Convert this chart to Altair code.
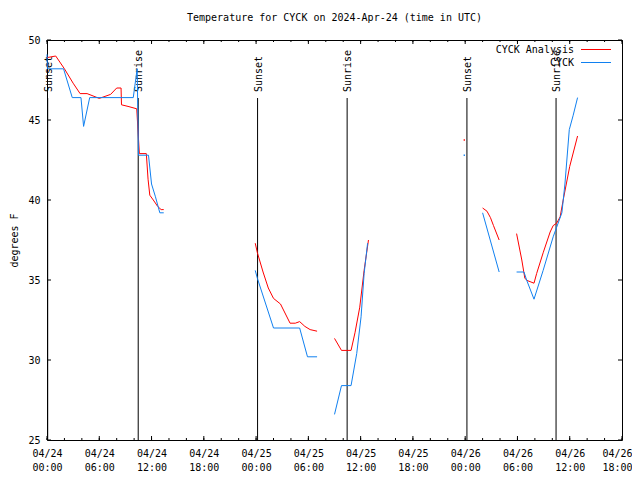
import altair as alt
import pandas as pd

# ---- data (hours since 2024-04-24 00:00 UTC, degrees F) ----
an_seg_h = [
    [0.0, 1.0, 2.0, 3.0, 3.8, 4.6, 6.0, 7.3, 8.0, 8.5, 8.55, 9.3, 10.3, 10.6, 11.4, 11.6, 11.8, 12.2, 12.7, 13.1, 13.4],
    [23.9, 24.15, 24.8, 25.4, 26.0, 26.8, 27.9, 28.5, 29.0, 29.6, 30.2, 31.0],
    [33.0, 33.8, 34.9, 35.35, 35.9, 36.4, 36.9],
    [50.0, 50.5, 50.9, 51.25, 51.9],
    [53.9, 54.5, 54.85, 55.2, 55.9, 56.2, 56.95, 57.75, 58.1, 58.5, 58.9, 59.25, 60.0, 60.9],
]
an_seg_v = [
    [48.9, 49.0, 48.2, 47.3, 46.65, 46.65, 46.35, 46.6, 47.0, 47.0, 45.95, 45.85, 45.7, 42.9, 42.9, 41.3, 40.3, 40.0, 39.6, 39.4, 39.4],
    [37.3, 36.7, 35.5, 34.5, 33.85, 33.5, 32.3, 32.3, 32.4, 32.1, 31.9, 31.8],
    [31.35, 30.6, 30.6, 31.7, 33.3, 35.6, 37.5],
    [39.5, 39.3, 38.9, 38.4, 37.5],
    [37.9, 36.25, 35.1, 34.95, 34.8, 35.4, 36.7, 38.0, 38.4, 38.55, 38.95, 40.0, 42.1, 44.0],
]
ob_seg_h = [
    [0.0, 0.05, 1.9, 2.9, 3.9, 4.2, 4.9, 9.9, 10.35, 10.5, 11.65, 12.0, 12.45, 12.95, 13.4],
    [23.9, 24.15, 26.0, 29.0, 29.9, 31.0],
    [33.0, 33.8, 34.9, 35.55, 36.05, 36.4, 36.8],
    [50.0, 51.9],
    [53.9, 54.75, 55.05, 55.9, 56.95, 58.1, 58.5, 59.1, 59.45, 59.95, 60.4, 60.9],
]
ob_seg_v = [
    [49.1, 48.2, 48.2, 46.4, 46.4, 44.6, 46.4, 46.4, 48.2, 42.8, 42.8, 41.0, 40.2, 39.2, 39.2],
    [35.6, 35.1, 32.0, 32.0, 30.2, 30.2],
    [26.6, 28.4, 28.4, 30.4, 32.7, 35.4, 37.3],
    [39.2, 35.5],
    [35.5, 35.5, 35.0, 33.8, 35.6, 37.7, 38.3, 39.2, 41.0, 44.4, 45.3, 46.4],
]
# isolated single observations
single_h = [47.9, 47.9]
single_v = [43.75, 42.8]
single_series = ["CYCK Analysis", "CYCK"]

series_names = ["CYCK Analysis", "CYCK"]
series_colors = ["#ff0000", "#1080f0"]

sun_hours = [0.08, 10.47, 24.17, 34.45, 48.2, 58.43]
sun_labels = ["Sunset", "Sunrise", "Sunset", "Sunrise", "Sunset", "Sunrise"]

x_label_hours = [0, 6, 12, 18, 24, 30, 36, 42, 48, 54, 60, 66]
x_label_dates = ["04/24", "04/24", "04/24", "04/24", "04/25", "04/25", "04/25", "04/25", "04/26", "04/26", "04/26", "04/26"]
x_label_times = ["00:00", "06:00", "12:00", "18:00", "00:00", "06:00", "12:00", "18:00", "00:00", "06:00", "12:00", "18:00"]
x_minor_hours = list(range(0, 67, 2))
y_tick_values = [25, 30, 35, 40, 45, 50]

title_text = "Temperature for CYCK on 2024-Apr-24 (time in UTC)"
y_title = "degrees F"

FONT = "DejaVu Sans Mono"
FS = 10
W, H = 575, 400

# ---- tables ----
def seg_table(hs, vs, name):
    rows = []
    for i, (h, v) in enumerate(zip(hs, vs)):
        for a, b in zip(h, v):
            rows.append({"h": a, "v": b, "seg": i, "series": name})
    return pd.DataFrame(rows)

an_df = seg_table(an_seg_h, an_seg_v, series_names[0])
ob_df = seg_table(ob_seg_h, ob_seg_v, series_names[1])
single_df = pd.DataFrame({"h": single_h, "v": single_v, "series": single_series})
sun_df = pd.DataFrame({"h": sun_hours, "label": sun_labels})
minor_df = pd.DataFrame({"h": x_minor_hours})
major_df = pd.DataFrame({"h": x_label_hours})
ytick_df = pd.DataFrame({"v": y_tick_values})

# label expression built from the label lists
expr = "''"
for hh, d, t in reversed(list(zip(x_label_hours, x_label_dates, x_label_times))):
    expr = f"datum.value == {hh} ? ['{d}', '{t}'] : ({expr})"
last_h = x_label_hours[-1]

xscale = alt.Scale(domain=[0, 66], nice=False, zero=False)
yscale = alt.Scale(domain=[25, 50], nice=False, zero=False)
cscale = alt.Scale(domain=series_names, range=series_colors)

xaxis = alt.Axis(values=x_label_hours, labelExpr=expr, ticks=False, domain=False, grid=False,
                 labelFont=FONT, labelFontSize=FS, labelColor="black", labelPadding=8,
                 labelLineHeight=14, labelFlush=False, labelOverlap=False,
                 labelAlign={"condition": {"test": f"datum.value == {last_h}", "value": "right"},
                             "value": "center"},
                 labelOffset={"condition": {"test": f"datum.value == {last_h}", "value": 10},
                              "value": 0})
yaxis = alt.Axis(values=y_tick_values, ticks=False, domain=False, grid=False,
                 labelFont=FONT, labelFontSize=FS, labelColor="black", labelPadding=7,
                 titleFont=FONT, titleFontSize=FS, titleFontWeight="normal", titleColor="black",
                 titleAngle=270, titleX=-33, titleY=H / 2, titleAlign="center",
                 titleBaseline="middle")

xs = alt.X("h:Q", scale=xscale, title=None, axis=xaxis)
ys = alt.Y("v:Q", scale=yscale, title=y_title, axis=yaxis)

# axis frame with inward ticks
minor_bot = alt.Chart(minor_df).mark_rule(color="black", strokeWidth=1).encode(
    x=xs, y=alt.value(H), y2=alt.value(H - 2))
minor_top = alt.Chart(minor_df).mark_rule(color="black", strokeWidth=1).encode(
    x=xs, y=alt.value(0), y2=alt.value(2))
major_bot = alt.Chart(major_df).mark_rule(color="black", strokeWidth=1).encode(
    x=xs, y=alt.value(H), y2=alt.value(H - 4))
major_top = alt.Chart(major_df).mark_rule(color="black", strokeWidth=1).encode(
    x=xs, y=alt.value(0), y2=alt.value(4))
ytick_l = alt.Chart(ytick_df).mark_rule(color="black", strokeWidth=1).encode(
    y=ys, x=alt.value(0), x2=alt.value(4))
ytick_r = alt.Chart(ytick_df).mark_rule(color="black", strokeWidth=1).encode(
    y=ys, x=alt.value(W), x2=alt.value(W - 4))

sun_rules = alt.Chart(sun_df).mark_rule(color="black", strokeWidth=1).encode(
    x=xs, y=alt.value(58), y2=alt.value(H))
sun_text = alt.Chart(sun_df).mark_text(
    font=FONT, fontSize=FS, angle=270, align="left", baseline="middle", dy=1, color="black"
).encode(x=xs, y=alt.value(52), text="label:N")

an_line = alt.Chart(an_df).mark_line(strokeWidth=1).encode(
    x=xs, y=ys, detail="seg:N",
    color=alt.Color("series:N", scale=cscale, legend=None))
ob_line = alt.Chart(ob_df).mark_line(strokeWidth=1).encode(
    x=xs, y=ys, detail="seg:N",
    color=alt.Color("series:N", scale=cscale, legend=None))
singles = alt.Chart(single_df).mark_square(size=2, opacity=1).encode(
    x=xs, y=ys, color=alt.Color("series:N", scale=cscale, legend=None))

# legend (gnuplot style: label then sample)
leg_layers = []
for i, (nm, col) in enumerate(zip(series_names, series_colors)):
    yy = 10 + 13 * i
    leg_layers.append(alt.Chart(pd.DataFrame({"t": [nm]})).mark_text(
        font=FONT, fontSize=FS, align="right", baseline="middle", color="black"
    ).encode(x=alt.value(527), y=alt.value(yy), text="t:N"))
    leg_layers.append(alt.Chart(pd.DataFrame({"t": [nm]})).mark_rule(
        color=col, strokeWidth=1).encode(x=alt.value(534), x2=alt.value(564), y=alt.value(yy - 0.5)))

chart = alt.layer(
    minor_bot, minor_top, major_bot, major_top, ytick_l, ytick_r,
    sun_rules, sun_text, an_line, ob_line, singles, *leg_layers
).properties(
    width=W, height=H,
    title=alt.Title(title_text, font=FONT, fontSize=FS, fontWeight="normal", color="black",
                    anchor="middle", offset=12),
    autosize=alt.AutoSizeParams(type="none"),
    padding={"left": 39, "top": 32, "right": 10, "bottom": 32},
    background="white",
).configure_view(stroke="black", strokeWidth=1)

chart.save("out.html", embed_options={"renderer": "svg", "actions": False})
